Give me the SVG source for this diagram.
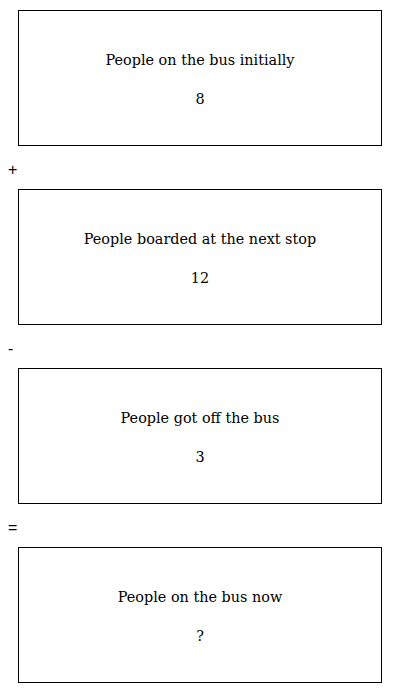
<svg xmlns="http://www.w3.org/2000/svg" width="400" height="693" viewBox="0 0 400 693">
<style>
.box{fill:#fff;stroke:#000;stroke-width:1}
.t{font-family:"DejaVu Serif","Liberation Serif",serif;font-size:14.4px;fill:#000;text-anchor:middle}
.op{font-family:"Liberation Sans","DejaVu Sans",sans-serif;font-size:16px;fill:#000}
</style>
<rect width="400" height="693" fill="#fff"/>
<g id="node1">
<rect class="box" x="18.5" y="10.5" width="363" height="135"/>
<text class="t" x="200" y="65">People on the bus initially</text>
<text class="t" x="200" y="104">8</text>
</g>
<g id="connectors">
<text class="op" x="8" y="175">+</text>
<text class="op" x="8" y="354">-</text>
<text class="op" x="8" y="533">=</text>
</g>
<g id="node2">
<rect class="box" x="18.5" y="189.5" width="363" height="135"/>
<text class="t" x="200" y="244">People boarded at the next stop</text>
<text class="t" x="200" y="283">12</text>
</g>
<g id="node3">
<rect class="box" x="18.5" y="368.5" width="363" height="135"/>
<text class="t" x="200" y="423">People got off the bus</text>
<text class="t" x="200" y="462">3</text>
</g>
<g id="node4">
<rect class="box" x="18.5" y="547.5" width="363" height="135"/>
<text class="t" x="200" y="602">People on the bus now</text>
<text class="t" x="200" y="641">?</text>
</g>
</svg>
